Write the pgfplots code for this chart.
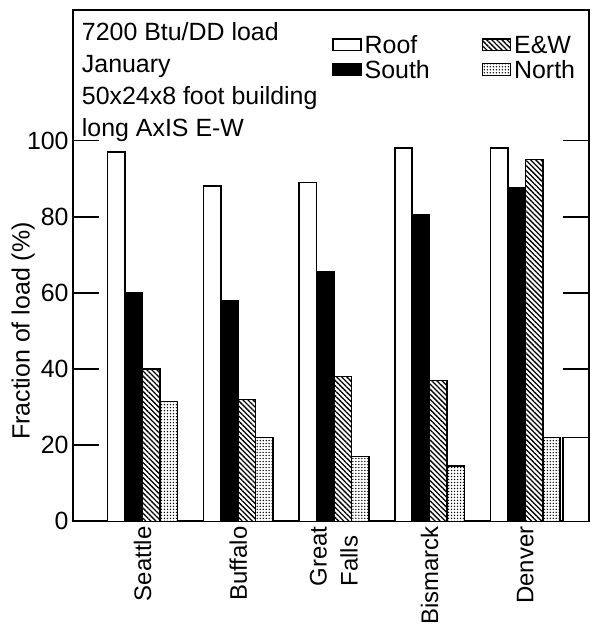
\documentclass[border=0pt]{standalone}
\usepackage{fontspec}
\setmainfont{Liberation Sans}
\usepackage{pgfplots}
\pgfplotsset{compat=1.18}
\usetikzlibrary{patterns, patterns.meta, calc}

\newcommand{\lbl}{\fontsize{25}{32}\selectfont}
\newcommand{\city}{\fontsize{24}{31}\selectfont}

\pgfplotsset{
  loadbar/.style={
    ybar,
    bar width=0.182,
    draw=black,
    line width=1.6pt,
    legend image code/.code={\draw[##1, line width=1.6pt] (0pt,-6pt) rectangle (28pt,6pt);}
  }
}

\begin{document}
\begin{tikzpicture}
  \begin{axis}[
    scale only axis,
    width=518pt,
    height=513pt,
    xmin=-0.729, xmax=4.667,
    ymin=0, ymax=134.3,
    axis line style={line width=1.8pt},
    ytick={0,20,...,100},
    ytick pos=both,
    yticklabel pos=left,
    tick align=inside,
    major tick length=26pt,
    ytick style={line width=1.8pt, black},
    xtick={0,1,2,3,4},
    xticklabels={Seattle, Buffalo, {Great\\Falls}, Bismarck, Denver},
    xtick style={draw=none},
    xticklabel style={rotate=90, anchor=east, align=left, inner sep=0pt, font=\city},
    xticklabel shift=5pt,
    yticklabel style={inner sep=0pt, font=\lbl},
    yticklabel shift=4pt,
    /pgf/number format/assume math mode=true,
    ylabel={Fraction of load (\%)},
    ylabel style={font=\lbl, at={(axis description cs:-0.0734,0.372)}, anchor=south, inner sep=0pt},
    legend columns=2,
    transpose legend,
    legend cell align=left,
    legend style={
      draw=none, fill=none,
      at={(rel axis cs:0.502,0.949)},
      anchor=north west,
      inner sep=0pt,
      font=\lbl,
      nodes={inner sep=0pt, text height=17pt, text depth=0pt},
      row sep=8pt,
      column sep=3pt,
      /tikz/every even column/.append style={column sep=52pt}
    },
  ]

    % Roof
    \addplot[loadbar, fill=white, bar shift=-0.273]
      coordinates {(0,97) (1,88) (2,89) (3,98) (4,98)};
    \addlegendentry{Roof}

    % South
    \addplot[loadbar, fill=black, bar shift=-0.091]
      coordinates {(0,60) (1,58) (2,65.5) (3,80.5) (4,87.5)};
    \addlegendentry{South}

    % E&W
    \addplot[loadbar, fill=white,
      postaction={pattern={Lines[angle=-45, distance=3.6pt, line width=1.3pt]}},
      bar shift=0.091]
      coordinates {(0,40) (1,32) (2,38) (3,37) (4,95)};
    \addlegendentry{E\&W}

    % North
    \addplot[loadbar, fill=white,
      postaction={pattern={Dots[distance=3pt, radius=0.75pt]}},
      bar shift=0.273]
      coordinates {(0,31.5) (1,22) (2,17) (3,14.5) (4,22)};
    \addlegendentry{North}

    % white box at the right edge
    \addplot[loadbar, fill=white, bar width=0.271, bar shift=0.531, forget plot]
      coordinates {(4,22)};

    \node[anchor=north west, align=left, font=\lbl, inner sep=0pt]
      at (rel axis cs:0.0174,0.9756)
      {7200 Btu/DD load\\January\\50x24x8 foot building\\long AxIS E-W};

    \coordinate (ll) at (rel axis cs:0,0);
    \coordinate (ur) at (rel axis cs:1,1);
  \end{axis}
  \pgfresetboundingbox
  \path ($(ll)+(-73pt,-108pt)$) rectangle ($(ur)+(7pt,10pt)$);
\end{tikzpicture}
\end{document}
